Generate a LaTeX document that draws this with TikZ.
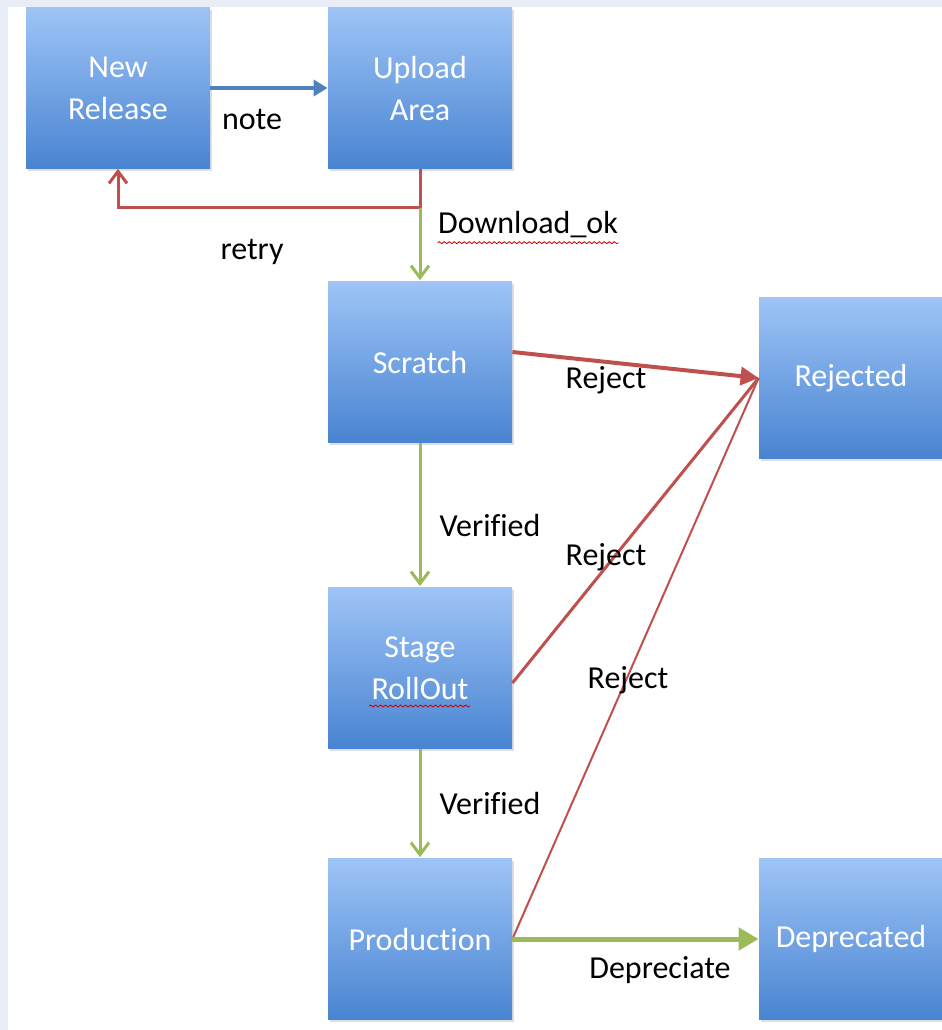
\documentclass[tikz,border=0pt]{standalone}
\usepackage{fontspec}
\setmainfont{Carlito}[Ligatures=NoCommon]
\usetikzlibrary{arrows.meta,shadows,decorations.pathmorphing}
\definecolor{boxtop}{HTML}{9EC4F7}
\definecolor{boxbot}{HTML}{4884D1}
\definecolor{okgreen}{HTML}{9BBB59}
\definecolor{badred}{HTML}{C0504D}
\definecolor{noteblue}{HTML}{4F81BD}
\definecolor{framebg}{HTML}{E9EEF6}
\tikzset{
	state/.style={rectangle, minimum width=92pt, minimum height=80.5pt,
		inner sep=0pt, top color=boxtop, bottom color=boxbot,
		drop shadow={opacity=0.25, shadow xshift=1pt, shadow yshift=-1pt},
		text=white, align=center, font=\fontsize{16}{21}\selectfont},
	lbl/.style={inner sep=0pt, font=\fontsize{16}{21}\selectfont},
	good/.style={draw=okgreen, line width=1.5pt,
		-{Straight Barb[length=6pt, width=9pt]}},
	back/.style={draw=badred, line width=1.5pt,
		-{Straight Barb[length=6pt, width=9pt]}},
	bad/.style={draw=badred, line width=1.5pt},
	spell/.style={draw=red!80!black, line width=0.4pt, decorate,
		decoration={snake, amplitude=0.5pt, segment length=2.5pt}}
}

\begin{document}
\begin{tikzpicture}[x=0.5pt,y=-0.5pt]

	\useasboundingbox (0,0) rectangle (942,1030);
	\fill[framebg] (0,0) rectangle (942,1030);
	\fill[white] (8,7) rectangle (942,1030);

	% states
	\node[state] (newrel) at (118,88) {New\\Release};
	\node[state] (upload) at (420,88) {Upload\\Area};
	\node[state] (scratch) at (420,362) {Scratch};
	\node[state] (rejected) at (851,378) {Rejected};
	\node[state] (stage) at (420,668) {Stage\\RollOut};
	\node[state] (prod) at (420,939) {Production};
	\node[state] (deprec) at (851,939) {Deprecated};

	\coordinate (split) at ([yshift=-19.5pt]upload.south);

	% transitions
	\draw[draw=noteblue, line width=2pt, -{Triangle[length=7pt, width=8pt]}]
		(newrel) -- (upload);
	\draw[back] (upload.south) -- (split) -| (newrel.south);
	\draw[good, shorten >=0.5pt] (split) -- (scratch.north);
	\foreach \i / \j in {
	scratch/stage,
	stage/prod}
	{
		\draw[good, shorten >=0.5pt] (\i.south) -- (\j.north);
	};
	\draw[bad, line width=2pt, -{Triangle[length=9pt, width=9pt]}]
		([yshift=5pt]scratch.east) -- (rejected.west);
	\draw[bad] ([yshift=-7.5pt]stage.east) -- (rejected.west);
	\draw[bad, line width=1pt] (prod.east) -- (rejected.west);
	\draw[draw=okgreen, line width=2.5pt, -{Triangle[length=10pt, width=11pt]}]
		(prod.east) -- (deprec.west);

	% labels
	\node[lbl] (lnote) at (252,119) {note};
	\node[lbl] (lretry) at (252,252) {retry};
	\node[lbl] (ldl) at (528,225) {Download\_ok};
	\node[lbl] (lrej1) at (606,380) {Reject};
	\node[lbl] (lver1) at (490,525) {Verified};
	\node[lbl] (lrej2) at (606,557) {Reject};
	\node[lbl] (lrej3) at (628,680) {Reject};
	\node[lbl] (lver2) at (490,803) {Verified};
	\node[lbl] (ldep) at (660,970) {Depreciate};

	% spell check marks
	\draw[spell] ([yshift=-2pt]ldl.south west) -- ([yshift=-2pt]ldl.south east);
	\draw[spell] (369,706) -- (470,706);

\end{tikzpicture}
\end{document}
